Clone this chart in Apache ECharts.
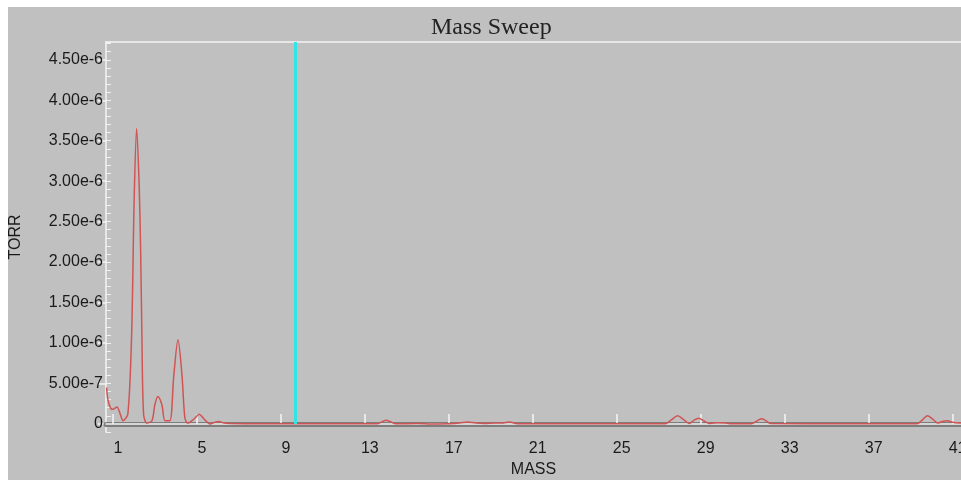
<!DOCTYPE html>
<html>
<head>
<meta charset="utf-8">
<script src="https://cdn.jsdelivr.net/npm/echarts@6/dist/echarts.min.js"></script>
<style>
html, body { margin: 0; padding: 0; background: #fff; }
#chart { position: absolute; left: 8px; top: 7px; width: 953px; height: 473px; }
</style>
</head>
<body>
<div id="chart"></div>
<script>
var mass = [0.7, 0.76, 0.9, 1.0, 1.19, 1.35, 1.48, 1.71, 1.89, 2.01, 2.13, 2.25, 2.32, 2.38, 2.46, 2.62,
    2.86, 3.0, 3.14, 3.33, 3.48, 3.71, 3.9, 4.1, 4.29, 4.43, 4.57, 4.9, 5.1, 5.38, 5.62, 5.85, 6.05, 6.3, 6.6,
    8, 10, 12, 13.6, 13.85, 14.0, 14.2, 14.45, 15.5, 16.2, 17.0, 17.5, 17.9, 18.3, 18.7, 19.2, 19.5, 19.9,
    20.2, 20.5, 24, 27.3, 27.6, 27.9, 28.2, 28.45, 28.7, 28.9, 29.2, 29.45, 29.8, 30.2, 30.5, 31.4, 31.7,
    31.9, 32.1, 32.35, 36, 39.3, 39.6, 39.8, 40.05, 40.3, 40.5, 40.75, 41.0, 41.4];
var torr = [4.5e-7, 3.0e-7, 1.9e-7, 1.8e-7, 2.1e-7, 1.2e-7, 0.4e-7, 1.2e-7, 1.1e-6, 2.75e-6, 3.65e-6, 2.95e-6, 2.14e-6, 1.1e-6, 1.2e-7, 0.1e-7,
    0.4e-7, 2.4e-7, 3.4e-7, 2.4e-7, 0.4e-7, 0.4e-7, 6.0e-7, 1.04e-6, 6.0e-7, 0.7e-7, 0.1e-7, 0.7e-7, 1.2e-7, 0.5e-7, 0.0, 0.2e-7, 0.3e-7, 0.1e-7, 0.05e-7,
    0.03e-7, 0.02e-7, 0.02e-7, 0.02e-7, 0.3e-7, 0.45e-7, 0.3e-7, 0.02e-7, 0.05e-7, 0.0, 0.02e-7, 0.1e-7, 0.25e-7, 0.1e-7, 0.05e-7, 0.1e-7, 0.1e-7, 0.25e-7,
    0.05e-7, 0.02e-7, 0.02e-7, 0.02e-7, 0.5e-7, 1.0e-7, 0.5e-7, 0.05e-7, 0.5e-7, 0.7e-7, 0.3e-7, 0.05e-7, 0.15e-7, 0.1e-7, 0.02e-7, 0.02e-7, 0.4e-7,
    0.65e-7, 0.4e-7, 0.05e-7, 0.02e-7, 0.02e-7, 0.6e-7, 1.0e-7, 0.6e-7, 0.1e-7, 0.3e-7, 0.4e-7, 0.2e-7, 0.1e-7];

var xTicks = [1, 5, 9, 13, 17, 21, 25, 29, 33, 37, 41];
var yTicks = [0, 5e-7, 1e-6, 1.5e-6, 2e-6, 2.5e-6, 3e-6, 3.5e-6, 4e-6, 4.5e-6];
var cursorMass = 9.7;

var xMin = 0.67, xMax = 41.4;
var yMin = -1e-7, yMax = 4.72e-6;

var chart = echarts.init(document.getElementById('chart'));

var points = mass.map(function (m, i) { return [m, torr[i]]; });

var labelFont = { fontFamily: 'Liberation Sans, Arial, sans-serif', fontSize: 16, color: '#1a1a1a' };

chart.setOption({
    animation: false,
    backgroundColor: '#c0c0c0',
    title: {
        text: 'Mass Sweep',
        left: 418,
        top: 4,
        textStyle: { fontFamily: 'Liberation Serif, Times New Roman, serif', fontSize: 24, fontWeight: 'normal', color: '#222' }
    },
    grid: { left: 98, top: 35, right: 0, bottom: 48, outerBoundsMode: 'none', containLabel: false },
    xAxis: [{
        type: 'value',
        min: xMin,
        max: xMax,
        z: 3,
        name: 'MASS',
        nameLocation: 'middle',
        nameGap: 26,
        nameTextStyle: labelFont,
        axisLine: { lineStyle: { color: '#f4f4f4', width: 1.5 } },
        axisTick: { inside: true, length: 10, lineStyle: { color: '#f4f4f4', width: 1.5 }, customValues: xTicks },
        axisLabel: Object.assign({ margin: 9, padding: [0, 0, 0, 10], customValues: xTicks, hideOverlap: false }, labelFont),
        splitLine: { show: false }
    }, {
        type: 'value',
        min: xMin,
        max: xMax,
        z: 2,
        position: 'bottom',
        offset: 3,
        axisLine: { lineStyle: { color: '#7d7d7d', width: 5 } },
        axisTick: { show: false },
        axisLabel: { show: false },
        splitLine: { show: false }
    }, {
        type: 'value',
        min: xMin,
        max: xMax,
        position: 'top',
        axisLine: { lineStyle: { color: '#f4f4f4', width: 1.5 } },
        axisTick: { show: false },
        axisLabel: { show: false },
        splitLine: { show: false }
    }],
    yAxis: [{
        type: 'value',
        min: yMin,
        max: yMax,
        name: 'TORR',
        nameLocation: 'middle',
        nameGap: 82,
        nameTextStyle: labelFont,
        axisLine: { show: true, lineStyle: { color: '#f4f4f4', width: 1.5 } },
        axisTick: { show: true, length: 8, lineStyle: { color: '#f4f4f4', width: 1.5 }, customValues: yTicks },
        axisLabel: Object.assign({
            margin: 3,
            customValues: yTicks,
            formatter: function (v) { return v === 0 ? '0' : v.toExponential(2); }
        }, labelFont),
        splitLine: { show: false }
    }, {
        type: 'value',
        min: yMin,
        max: yMax,
        interval: 1e-7,
        position: 'left',
        axisLine: { show: false },
        axisTick: { show: true, inside: true, length: 5, lineStyle: { color: '#f0f0f0', width: 1 } },
        axisLabel: { show: false },
        splitLine: { show: false }
    }],
    series: [{
        type: 'line',
        data: points,
        smooth: 0.3,
        showSymbol: false,
        lineStyle: { color: '#d05454', width: 1.5 },
        markLine: {
            silent: true,
            symbol: 'none',
            label: { show: false },
            lineStyle: { color: '#33e4e4', width: 3, type: 'solid' },
            data: [[{ coord: [cursorMass, 0] }, { coord: [cursorMass, yMax] }]]
        }
    }]
});
</script>
</body>
</html>
